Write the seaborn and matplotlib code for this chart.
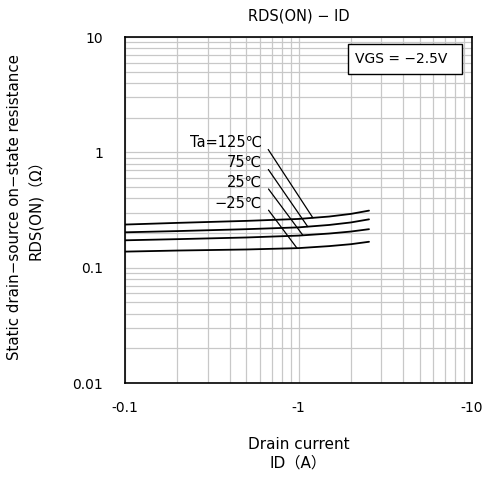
import matplotlib
matplotlib.use("Agg")
import matplotlib.pyplot as plt
import matplotlib.ticker as mticker
from matplotlib.patches import Rectangle
import seaborn as sns
import numpy as np
import pandas as pd

# Drain current (absolute value, A) and on-resistance (ohm) per temperature
drain_current = [0.1, 0.2, 0.5, 1.0, 1.5, 2.0, 2.55]
rds_125 = [0.237, 0.245, 0.255, 0.265, 0.278, 0.293, 0.313]
rds_75 = [0.203, 0.208, 0.216, 0.224, 0.235, 0.247, 0.263]
rds_25 = [0.173, 0.177, 0.183, 0.190, 0.198, 0.206, 0.216]
rds_m25 = [0.138, 0.141, 0.144, 0.148, 0.154, 0.160, 0.168]

temp_labels = ["Ta=125℃", "75℃", "25℃", "−25℃"]
series = [rds_125, rds_75, rds_25, rds_m25]

x_ticks = [0.1, 1, 10]
y_ticks = [0.01, 0.1, 1, 10]

df = pd.concat(
    [pd.DataFrame({"ID": drain_current, "RDS": vals, "Temp": lab})
     for lab, vals in zip(temp_labels, series)],
    ignore_index=True)

sns.set_style("white", {"text.color": "black", "xtick.color": "black",
                        "ytick.color": "black", "axes.labelcolor": "black"})
plt.rcParams["font.family"] = ["DejaVu Sans", "Noto Sans CJK JP"]

fig = plt.figure(figsize=(4.85, 4.83), dpi=100)
ax = fig.add_axes([0.258, 0.207, 0.715, 0.716])

sns.lineplot(data=df, x="ID", y="RDS", hue="Temp", palette=["black"] * 4,
             legend=False, linewidth=1.3, ax=ax)

ax.set_xscale("log")
ax.set_yscale("log")
ax.set_xlim(0.1, 10)
ax.set_ylim(0.01, 10)

ax.xaxis.set_major_locator(mticker.FixedLocator(x_ticks))
ax.yaxis.set_major_locator(mticker.FixedLocator(y_ticks))
ax.xaxis.set_minor_locator(mticker.LogLocator(base=10, subs=range(2, 10)))
ax.yaxis.set_minor_locator(mticker.LogLocator(base=10, subs=range(2, 10)))
ax.xaxis.set_major_formatter(mticker.FuncFormatter(lambda v, p: f"-{v:g}"))
ax.yaxis.set_major_formatter(mticker.FuncFormatter(lambda v, p: f"{v:g}"))
ax.xaxis.set_minor_formatter(mticker.NullFormatter())
ax.yaxis.set_minor_formatter(mticker.NullFormatter())
ax.tick_params(axis="both", which="both", length=0)
ax.tick_params(axis="y", pad=16, labelsize=10)
ax.tick_params(axis="x", pad=13, labelsize=10)

ax.grid(True, which="both", color="#c8c8c8", linewidth=0.9)
ax.set_axisbelow(True)
for sp in ax.spines.values():
    sp.set_color("black")
    sp.set_linewidth(1.2)

# Temperature labels with leader lines to the curves
label_y = [1.23, 0.82, 0.55, 0.36]
target_x = [1.21, 1.13, 1.06, 0.98]
log_x = np.log10(drain_current)
for lab, vals, ly, tx in zip(temp_labels, series, label_y, target_x):
    ty = 10 ** np.interp(np.log10(tx), log_x, np.log10(vals))
    ax.annotate(lab, xy=(tx, ty), xytext=(0.615, ly), ha="right", va="center",
                fontsize=10.5,
                arrowprops=dict(arrowstyle="-", color="black", lw=0.9,
                                relpos=(1, 0.65), shrinkA=4, shrinkB=0))

# VGS condition box
ax.add_patch(Rectangle((0.643, 0.893), 0.328, 0.087, transform=ax.transAxes,
                       facecolor="white", edgecolor="black", linewidth=1.0,
                       zorder=3))
ax.text(0.663, 0.936, "VGS = −2.5V", transform=ax.transAxes, ha="left",
        va="center", fontsize=10, zorder=4)

ax.set_title("RDS(ON) − ID", fontsize=10.5, pad=12)
ax.set_xlabel("Drain current\nID（A）", fontsize=11, linespacing=1.3)
ax.xaxis.set_label_coords(0.5, -0.155)
ax.set_ylabel("Static drain−source on−state resistance\nRDS(ON)（Ω）",
              fontsize=10.8, linespacing=1.5)
ax.yaxis.set_label_coords(-0.234, 0.51)

fig.savefig("out.png", dpi=100)
